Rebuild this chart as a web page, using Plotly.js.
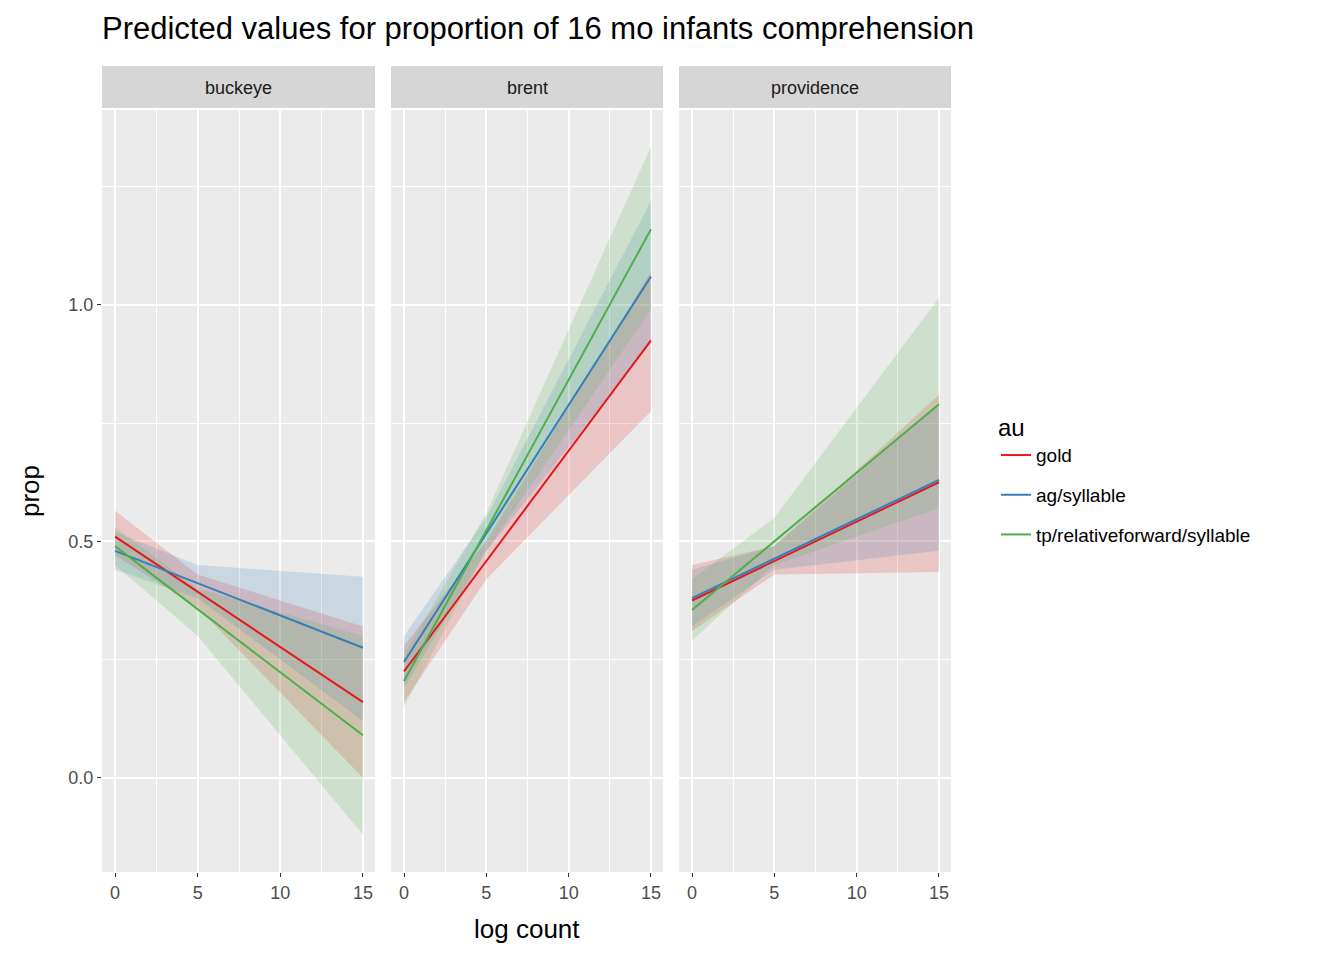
<!DOCTYPE html>
<html><head><meta charset="utf-8">
<script src="https://cdn.plot.ly/plotly-3.0.1.min.js"></script>
<style>body{margin:0}</style></head>
<body><div id="c" style="width:1344px;height:960px"></div>
<script>
const panels = ["buckeye","brent","providence"];
const series = ["gold","ag/syllable","tp/relativeforward/syllable"];
const colors = ["#E41A1C","#377EB8","#4DAF4A"];
const xs = [0,5,15];
// fit, lower, upper per panel per series (at x = 0, 5, 15)
const fit = [
 [[0.51,0.393,0.16],[0.48,0.412,0.275],[0.49,0.357,0.09]],
 [[0.225,0.458,0.925],[0.245,0.517,1.06],[0.205,0.523,1.16]],
 [[0.375,0.458,0.625],[0.38,0.463,0.63],[0.355,0.50,0.79]]
];
const lower = [
 [[0.47,0.36,0.0],[0.44,0.38,0.12],[0.45,0.30,-0.12]],
 [[0.16,0.42,0.775],[0.19,0.48,0.92],[0.15,0.48,0.99]],
 [[0.31,0.43,0.435],[0.32,0.44,0.48],[0.29,0.45,0.57]]
];
const upper = [
 [[0.565,0.43,0.32],[0.52,0.45,0.425],[0.53,0.40,0.30]],
 [[0.28,0.50,1.07],[0.30,0.55,1.22],[0.26,0.56,1.335]],
 [[0.45,0.49,0.81],[0.44,0.49,0.79],[0.42,0.55,1.015]]
];
const fills = ["rgba(228,26,28,0.18)","rgba(55,126,184,0.18)","rgba(77,175,74,0.18)"];
const traces = [];
const doms = [[102,375],[391,663],[679,951]];
panels.forEach((p,i)=>{
  const xa = i===0?'x':'x'+(i+1);
  series.forEach((s,j)=>{
    traces.push({x:xs.concat(xs.slice().reverse()), y:upper[i][j].concat(lower[i][j].slice().reverse()),
      xaxis:xa, yaxis:'y', fill:'toself', fillcolor:fills[j], line:{width:0}, mode:'lines',
      hoverinfo:'skip', showlegend:false});
  });
});
panels.forEach((p,i)=>{
  const xa = i===0?'x':'x'+(i+1);
  series.forEach((s,j)=>{
    traces.push({x:xs, y:fit[i][j], xaxis:xa, yaxis:'y', mode:'lines',
      line:{color:colors[j], width:2}, name:s, legendgroup:s, showlegend:i===0});
  });
});
const axBase = {range:[-0.79,15.73], tickvals:[0,5,10,15], ticktext:["0","5","10","15"],
  showgrid:true, gridcolor:'#ffffff', gridwidth:1.6, zeroline:false, ticks:'outside', ticklen:4,
  tickcolor:'#333', tickfont:{size:18,color:'#4d4d4d'}, showline:false,
  minor:{dtick:2.5, tick0:0, showgrid:true, gridcolor:'#ffffff', gridwidth:0.7, ticks:''}, anchor:'y'};
const layout = {
  width:1344, height:960, margin:{l:0,r:0,t:0,b:0}, paper_bgcolor:'#fff', plot_bgcolor:'#EBEBEB',
  font:{family:'Liberation Sans, Arial, sans-serif', color:'#000'},
  title:{text:'Predicted values for proportion of 16 mo infants comprehension', x:102/1344, xanchor:'left', y:1-28/960, yanchor:'middle', font:{size:31}},
  yaxis:{range:[-0.199,1.412], domain:[1-872/960,1-110/960], tickvals:[0,0.5,1.0], ticktext:["0.0","0.5","1.0"],
    showgrid:true, gridcolor:'#fff', gridwidth:1.6, zeroline:false, ticks:'outside', ticklen:4, tickcolor:'#333',
    tickfont:{size:18,color:'#4d4d4d'}, anchor:'x',
    minor:{dtick:0.25, tick0:0, showgrid:true, gridcolor:'#fff', gridwidth:0.7, ticks:''}},
  legend:{x:996/1344, y:1-405/960, xanchor:'left', yanchor:'top', bgcolor:'rgba(0,0,0,0)',
    title:{text:'au', font:{size:24}}, font:{size:19}, tracegroupgap:12},
  shapes:[], annotations:[]
};
doms.forEach((d,i)=>{
  const key = i===0?'xaxis':'xaxis'+(i+1);
  layout[key] = Object.assign({}, axBase, {domain:[d[0]/1344,d[1]/1344]});
  layout.shapes.push({type:'rect', xref:'paper', yref:'paper', x0:d[0]/1344, x1:d[1]/1344,
    y0:1-108/960, y1:1-66/960, fillcolor:'#D6D6D6', line:{width:0}});
  layout.annotations.push({text:panels[i], xref:'paper', yref:'paper', x:(d[0]+d[1])/2/1344, y:1-88/960,
    showarrow:false, font:{size:18,color:'#1a1a1a'}, xanchor:'center', yanchor:'middle'});
});
layout.annotations.push({text:'log count', xref:'paper', yref:'paper', x:527/1344, y:1-929/960,
  showarrow:false, font:{size:26}, xanchor:'center', yanchor:'middle'});
layout.annotations.push({text:'prop', xref:'paper', yref:'paper', x:30/1344, y:1-491/960, textangle:-90,
  showarrow:false, font:{size:26}, xanchor:'center', yanchor:'middle'});
Plotly.newPlot('c', traces, layout, {displayModeBar:false});
</script></body></html>
